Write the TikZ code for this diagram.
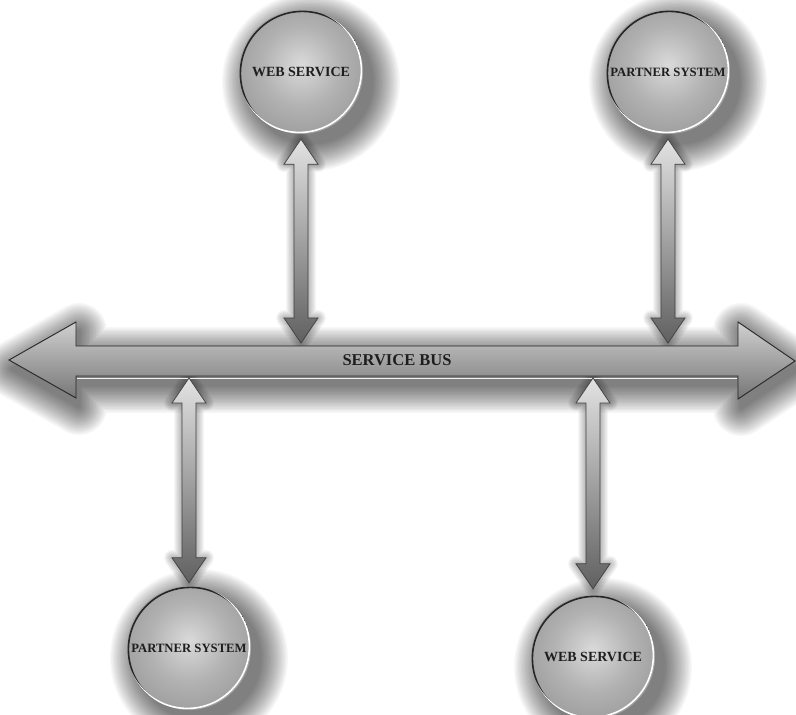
\documentclass[tikz,border=0pt]{standalone}
\usepackage{fontspec}
\setmainfont{Liberation Serif}
\usetikzlibrary{calc}

\definecolor{ballin}{HTML}{DADADA}
\definecolor{ballmd}{HTML}{B2B2B2}
\definecolor{ballout}{HTML}{808080}
\definecolor{labelink}{HTML}{1E1E1E}
\definecolor{rimdark}{HTML}{262626}

\pgfdeclarelayer{canvas}
\pgfdeclarelayer{shadows}
\pgfsetlayers{canvas,shadows,main}

% sphere-like shading for the endpoint discs
\pgfdeclareradialshading{ballshade}{\pgfpoint{0bp}{3bp}}{%
  color(0bp)=(ballin); color(16bp)=(ballmd); color(46bp)=(ballout); color(70bp)=(ballout)}

\tikzset{
  ball/.style={circle, minimum size=124pt, inner sep=0pt, shading=ballshade,
    text=labelink,
    path picture={
      \draw[rimdark, line width=1.6pt]
        ([xshift=1.4pt,yshift=-1.4pt]path picture bounding box.center) circle (62pt);
      \draw[white, line width=1.6pt]
        ([xshift=-1.6pt,yshift=1.6pt]path picture bounding box.center) circle (62pt);
    }},
  busbody/.style={draw=black!85, line width=0.9pt, shading=axis,
    top color={rgb,255:red,208;green,208;blue,208},
    middle color={rgb,255:red,168;green,168;blue,168},
    bottom color={rgb,255:red,118;green,118;blue,118}},
  linkarrow/.style={draw=black!75, line width=0.7pt, shading=axis,
    top color={rgb,255:red,226;green,226;blue,226},
    bottom color={rgb,255:red,96;green,96;blue,96}},
  softlayer/.style={fill=black, draw=black, line join=round},
  buslabel/.style={text=labelink, font=\fontsize{16.5}{18}\selectfont\bfseries, inner sep=0pt}
}

% outline of the bus arrow
\def\buspath{(9,360) -- (76,322) -- (76,346) -- (738,346) -- (738,322)
    -- (795,361) -- (738,399) -- (738,376) -- (76,376) -- (76,398) -- cycle}

% fat double-headed arrow between an upper point #2 and a lower point #3
\newcommand\linkpath[3][]{%
  \path[#1] let \p1=(#2), \p2=(#3) in
    (\x1,\y1) -- (\x1+17pt,\y1-25pt) -- (\x1+7pt,\y1-25pt) -- (\x1+7pt,\y2+25pt)
    -- (\x1+17pt,\y2+25pt) -- (\x1,\y2) -- (\x1-17pt,\y2+25pt) -- (\x1-7pt,\y2+25pt)
    -- (\x1-7pt,\y1-25pt) -- (\x1-17pt,\y1-25pt) -- cycle;}

\begin{document}
\begin{tikzpicture}[x=1pt, y=-1pt]
  \begin{pgfonlayer}{canvas}
    \fill[white] (0,0) rectangle (796,715);
  \end{pgfonlayer}
  \useasboundingbox (0,0) rectangle (796,715);

  % the bus
  \coordinate (busN) at (0,346);
  \coordinate (busS) at (0,376);
  \path[busbody] \buspath;
  \draw[white!90!gray, line width=0.9pt] (77,378) -- (737,378);
  \node[buslabel] (bus) at (397,360) {SERVICE BUS};

  % endpoints
  \node[ball, font=\fontsize{14}{16}\selectfont\bfseries] (ws1) at (301,72) {WEB SERVICE};
  \node[ball, font=\fontsize{12.7}{15}\selectfont\bfseries] (ps1) at (668,72) {PARTNER SYSTEM};
  \node[ball, font=\fontsize{12.7}{15}\selectfont\bfseries] (ps2) at (189,648) {PARTNER SYSTEM};
  \node[ball, font=\fontsize{14}{16}\selectfont\bfseries] (ws2) at (593,657) {WEB SERVICE};

  % link end points
  \coordinate (l1a) at ($(ws1.south)+(0,5)$);
  \coordinate (l1b) at ($(ws1.south |- busN)+(0,-3)$);
  \coordinate (l2a) at ($(ps1.south)+(0,5)$);
  \coordinate (l2b) at ($(ps1.south |- busN)+(0,-3)$);
  \coordinate (l3a) at ($(ps2.north |- busS)+(0,2)$);
  \coordinate (l3b) at ($(ps2.north)+(0,-3)$);
  \coordinate (l4a) at ($(ws2.north |- busS)+(0,2)$);
  \coordinate (l4b) at ($(ws2.north)+(0,-6)$);

  % links between endpoints and the bus
  \linkpath[linkarrow]{l1a}{l1b}
  \linkpath[linkarrow]{l2a}{l2b}
  \linkpath[linkarrow]{l3a}{l3b}
  \linkpath[linkarrow]{l4a}{l4b}

  % soft drop shadows, built up from faint layers
  \begin{pgfonlayer}{shadows}
    \foreach \k in {1,...,20}{
      \begin{scope}[transparency group, opacity=0.03, shift={(3,9)}]
        \path[softlayer, line width=\k*2.8pt] \buspath;
      \end{scope}
    }
    \foreach \n in {ws1,ps1,ps2,ws2}{
      \foreach \k in {1,...,20}{
        \fill[black, opacity=0.03] ([shift={(10,10)}]\n.center) circle ({61+1.4*\k});
      }
    }
    \foreach \a/\b in {l1a/l1b,l2a/l2b,l3a/l3b,l4a/l4b}{
      \foreach \k in {1,...,8}{
        \begin{scope}[transparency group, opacity=0.035, shift={(5,3)}]
          \linkpath[softlayer, line width=\k*2pt]{\a}{\b}
        \end{scope}
      }
    }
  \end{pgfonlayer}
\end{tikzpicture}
\end{document}
